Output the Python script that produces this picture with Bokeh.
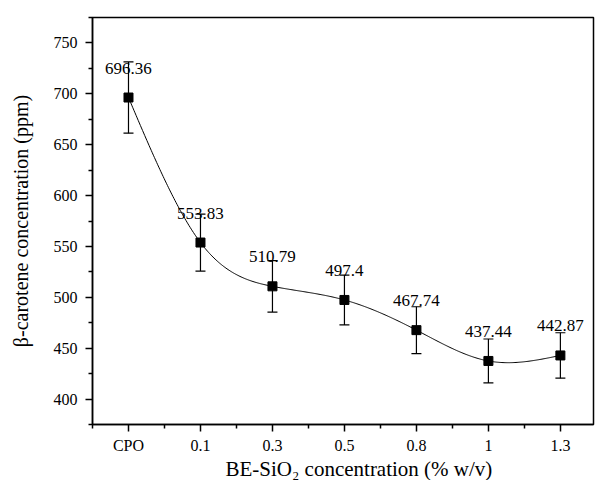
import numpy as np
from bokeh.plotting import figure
from bokeh.models import ColumnDataSource, Whisker, LabelSet, Title, FixedTicker, Range1d, TeeHead
from bokeh.core.properties import value
from bokeh.embed import file_html
from bokeh.resources import INLINE

# ---- data ----
categories = ["CPO", "0.1", "0.3", "0.5", "0.8", "1", "1.3"]
beta_carotene = [696.36, 553.83, 510.79, 497.4, 467.74, 437.44, 442.87]
std_error = [35.0, 28.0, 25.3, 24.5, 23.0, 21.6, 22.3]
value_labels = ["696.36", "553.83", "510.79", "497.4", "467.74", "437.44", "442.87"]
y_ticks = [400, 450, 500, 550, 600, 650, 700, 750]
y_minor = [375, 425, 475, 525, 575, 625, 675, 725, 775]
x_title = "BE-SiO\u2082 concentration (% w/v)"
y_title = "\u03b2-carotene concentration (ppm)"

FONT = "Liberation Serif"

x_idx = np.arange(len(categories), dtype=float)
y_arr = np.array(beta_carotene, dtype=float)
err = np.array(std_error, dtype=float)


def natural_cubic_spline(x, y, n=400):
    m = len(x)
    h = np.diff(x)
    A = np.zeros((m, m))
    b = np.zeros(m)
    A[0, 0] = 1.0
    A[-1, -1] = 1.0
    for i in range(1, m - 1):
        A[i, i - 1] = h[i - 1]
        A[i, i] = 2 * (h[i - 1] + h[i])
        A[i, i + 1] = h[i]
        b[i] = 6 * ((y[i + 1] - y[i]) / h[i] - (y[i] - y[i - 1]) / h[i - 1])
    M = np.linalg.solve(A, b)
    xs = np.linspace(x[0], x[-1], n)
    ys = np.empty_like(xs)
    for k, xv in enumerate(xs):
        i = min(np.searchsorted(x, xv, side="right") - 1, m - 2)
        i = max(i, 0)
        t1 = x[i + 1] - xv
        t0 = xv - x[i]
        hi = h[i]
        ys[k] = (M[i] * t1 ** 3 / (6 * hi) + M[i + 1] * t0 ** 3 / (6 * hi)
                 + (y[i] / hi - M[i] * hi / 6) * t1 + (y[i + 1] / hi - M[i + 1] * hi / 6) * t0)
    return xs, ys


cx, cy = natural_cubic_spline(x_idx, y_arr)

src = ColumnDataSource(dict(x=x_idx, y=y_arr, upper=y_arr + err, lower=y_arr - err, label=value_labels))

p = figure(frame_width=501, frame_height=407,
           x_range=Range1d(-0.5, 6.46), y_range=Range1d(375, 775),
           output_backend="svg", toolbar_location=None,
           min_border_left=92, min_border_top=17, min_border_right=2, min_border_bottom=56)

p.background_fill_color = "white"
p.border_fill_color = "white"
p.outline_line_color = "black"
p.outline_line_width = 1.5
p.xgrid.visible = False
p.ygrid.visible = False

p.line(cx, cy, line_color="black", line_width=1)

whisk = Whisker(base="x", upper="upper", lower="lower", source=src,
                line_color="black", line_width=1.2,
                upper_head=TeeHead(size=10, line_color="black", line_width=1.2),
                lower_head=TeeHead(size=10, line_color="black", line_width=1.2))
p.add_layout(whisk)

p.scatter("x", "y", source=src, marker="square", size=9, fill_color="black", line_color="black")

labels = LabelSet(x="x", y="y", text="label", source=src, text_align="center",
                  text_baseline="alphabetic", y_offset=24,
                  text_font=value(FONT), text_font_size="17px", text_color="black")
p.add_layout(labels)

for ax in (p.xaxis[0], p.yaxis[0]):
    ax.axis_line_color = "black"
    ax.axis_line_width = 1.5
    ax.major_tick_line_color = "black"
    ax.major_tick_line_width = 1.5
    ax.minor_tick_line_color = "black"
    ax.minor_tick_line_width = 1.5
    ax.major_tick_in = 0
    ax.major_tick_out = 7
    ax.minor_tick_in = 0
    ax.minor_tick_out = 4
    ax.major_label_text_font = FONT
    ax.major_label_text_font_size = "16px"
    ax.major_label_text_color = "black"
    ax.axis_label_text_font = FONT
    ax.axis_label_text_font_size = "20px"
    ax.axis_label_text_font_style = "normal"
    ax.axis_label_text_color = "black"

p.xaxis.ticker = FixedTicker(ticks=list(range(len(categories))),
                             minor_ticks=[i - 0.5 for i in range(len(categories) + 1)])
p.xaxis.major_label_overrides = {i: c for i, c in enumerate(categories)}
p.xaxis.major_label_standoff = 5

# x-axis title, set slightly right of centre as in the original figure
x_title_obj = Title(text=x_title, align="left", offset=133, standoff=-3,
                    text_font=FONT, text_font_size="21px", text_font_style="normal",
                    text_color="black")
p.add_layout(x_title_obj, "below")

p.yaxis.ticker = FixedTicker(ticks=y_ticks, minor_ticks=y_minor)
p.yaxis.axis_label = y_title
p.yaxis.major_label_standoff = 8
p.yaxis.axis_label_standoff = 19

open("out.html", "w").write(file_html(p, INLINE))
